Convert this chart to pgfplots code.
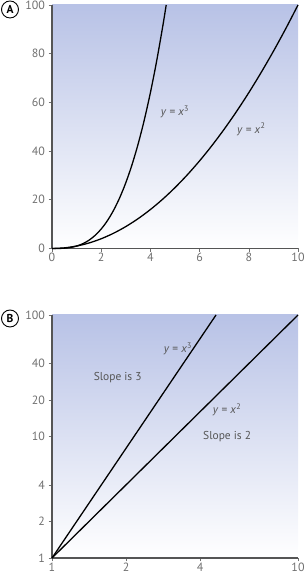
\documentclass[border=0pt]{standalone}
\usepackage{pgfplots}
\pgfplotsset{compat=1.18}
\usepackage{fontspec}
\setmainfont{PT Sans}
\definecolor{gradtop}{HTML}{B8C2E6}
\definecolor{axgray}{HTML}{555555}
\definecolor{labgray}{HTML}{707070}
\tikzset{lab/.style={text=axgray, font=\fontsize{11.5}{14}\selectfont}}
\pgfplotsset{
  myaxis/.style={
    scale only axis,
    width=246bp,
    axis x line=bottom,
    axis y line=left,
    axis line style={-, draw=axgray, line width=1.3pt},
    tick style={draw=labgray, line width=0.6pt},
    major tick length=3.5bp,
    tick align=outside,
    xtick pos=bottom, ytick pos=left,
    tick label style={font=\fontsize{12}{14}\selectfont, text=labgray},
    xticklabel style={inner sep=1bp},
    /pgf/number format/assume math mode=true,
    axis background/.style={top color=gradtop, middle color=gradtop!36!white, bottom color=white},
    clip=false,
  },
  curve/.style={black, line width=1.3pt, no marks},
}
\begin{document}
\begin{tikzpicture}[x=1bp,y=1bp]
\useasboundingbox (0,0) rectangle (307,574);
% Panel A
\begin{axis}[myaxis, height=243.5bp, at={(52bp,325.5bp)}, anchor=origin,
  xmin=0, xmax=10, ymin=0, ymax=100,
  xtick={0,2,4,6,8,10}, ytick={0,20,40,60,80,100}]
\addplot[curve, smooth] coordinates {(0,0) (0.25,0.0156) (0.5,0.125) (0.75,0.42) (1,1) (1.25,1.95) (1.5,3.375) (1.75,5.36) (2,8) (2.25,11.39) (2.5,15.625) (2.75,20.8) (3,27) (3.25,34.33) (3.5,42.875) (3.75,52.73) (4,64) (4.25,76.77) (4.5,91.125) (4.642,100)};
\addplot[curve, smooth] coordinates {(0,0) (0.5,0.25) (1,1) (1.5,2.25) (2,4) (2.5,6.25) (3,9) (3.5,12.25) (4,16) (4.5,20.25) (5,25) (5.5,30.25) (6,36) (6.5,42.25) (7,49) (7.5,56.25) (8,64) (8.5,72.25) (9,81) (9.5,90.25) (10,100)};
\node[lab] at (axis cs:5.0,56) {\textit{y} = \textit{x}\textsuperscript{3}};
\node[lab] at (axis cs:8.1,49) {\textit{y} = \textit{x}\textsuperscript{2}};
\end{axis}
% Panel B
\begin{axis}[myaxis, height=243bp, at={(52bp,16bp)}, anchor=origin,
  xmode=log, ymode=log, log basis x=10, log basis y=10,
  xmin=1, xmax=10, ymin=1, ymax=100,
  xtick={1,2,4,10}, xticklabels={1,2,4,10},
  ytick={1,2,4,10,20,40,100}, yticklabels={1,2,4,10,20,40,100},
  minor tick num=0, minor xtick={}, minor ytick={}]
\addplot[curve] coordinates {(1,1) (4.642,100)};
\addplot[curve] coordinates {(1,1) (10,100)};
\node[lab] at (axis cs:3.25,52.5) {\textit{y} = \textit{x}\textsuperscript{3}};
\node[lab] at (axis cs:1.85,30.3) {Slope is 3};
\node[lab] at (axis cs:5.15,16.5) {\textit{y} = \textit{x}\textsuperscript{2}};
\node[lab] at (axis cs:5.15,9.9) {Slope is 2};
\end{axis}
\node[draw=black, circle, line width=0.9pt, inner sep=0pt, minimum size=17bp, font=\bfseries\fontsize{11.5}{14}\selectfont] at (10,564.5) {A};
\node[draw=black, circle, line width=0.9pt, inner sep=0pt, minimum size=17bp, font=\bfseries\fontsize{11.5}{14}\selectfont] at (10,255.5) {B};
\end{tikzpicture}
\end{document}
